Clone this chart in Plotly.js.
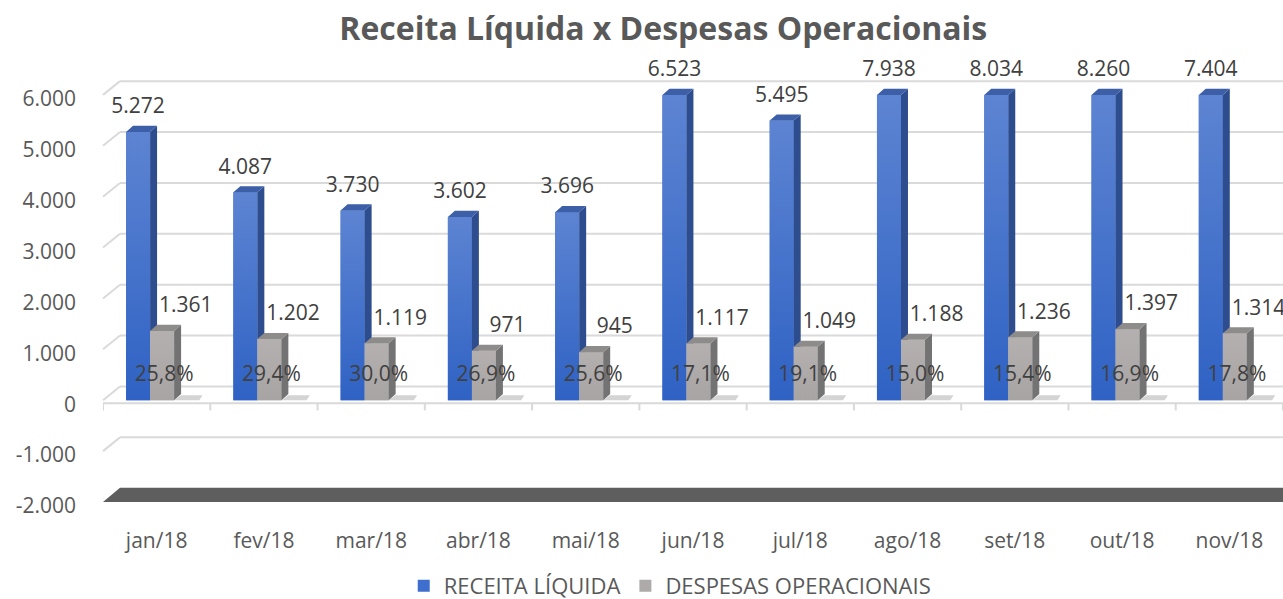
<!DOCTYPE html>
<html>
<head>
<meta charset="utf-8">
<script src="https://cdn.plot.ly/plotly-3.0.1.min.js"></script>
<style>
  html, body { margin: 0; padding: 0; background: #fff; }
  #chart { width: 1283px; height: 599px; }
</style>
</head>
<body>
<div id="chart"></div>
<script>
// ── Data ──
const months   = ["jan/18", "fev/18", "mar/18", "abr/18", "mai/18", "jun/18", "jul/18", "ago/18", "set/18", "out/18", "nov/18"];
const receita  = [5272, 4087, 3730, 3602, 3696, 6523, 5495, 7938, 8034, 8260, 7404];
const despesas = [1361, 1202, 1119, 971, 945, 1117, 1049, 1188, 1236, 1397, 1314];
const pctLabels = ["25,8%", "29,4%", "30,0%", "26,9%", "25,6%", "17,1%", "19,1%", "15,0%", "15,4%", "16,9%", "17,8%"];
const yTicks   = [-2000, -1000, 0, 1000, 2000, 3000, 4000, 5000, 6000];
const yTickText = ["-2.000", "-1.000", "0", "1.000", "2.000", "3.000", "4.000", "5.000", "6.000"];

// ── Look ──
const CAP = 6000;          // the 3D axis stops at 6.000, taller bars are cut
const W   = 0.224;         // front face width (category units)
const DX  = 0.065;         // depth to the right
const DY  = 120;           // depth upwards (data units)
const BLUE_OFF = -0.285;
const GRAY_OFF = BLUE_OFF + W;
const FONT = "Open Sans, DejaVu Sans, sans-serif";
const TXT  = "#404040";

const xs = months.map((m, i) => i);
const blueV = receita.map(v => Math.min(v, CAP));

function fmt(v) {
    return String(v).replace(/\B(?=(\d{3})+(?!\d))/g, ".");
}

// polygons joined with null gaps, each filled on its own
function polys(list) {
    const px = [], py = [];
    list.forEach(p => {
        p.forEach(pt => { px.push(pt[0]); py.push(pt[1]); });
        px.push(p[0][0]); py.push(p[0][1]);
        px.push(null); py.push(null);
    });
    return { px, py };
}

function face(list, color) {
    const p = polys(list);
    return {
        x: p.px, y: p.py, type: "scatter", mode: "lines",
        fill: "toself", fillcolor: color, line: { width: 0 },
        hoverinfo: "skip", showlegend: false
    };
}

// front faces: one trace per column so each gets its own shading
function fronts(vals, off, dark, light) {
    return vals.map((v, i) => {
        const l = i + off, r = l + W;
        return {
            x: [l, r, r, l, l], y: [0, 0, v, v, 0], type: "scatter", mode: "lines",
            fill: "toself", line: { width: 0 },
            fillgradient: { type: "vertical", start: 0, stop: v, colorscale: [[0, dark], [1, light]] },
            hoverinfo: "skip", showlegend: false
        };
    });
}

const blueFaces = fronts(blueV, BLUE_OFF, "#2f62c4", "#5d84d2");
const grayFaces = fronts(despesas, GRAY_OFF, "#a8a4a4", "#b4b0b0");

// blue side sits behind the grey front, so start it at the grey top
const blueSide = face(xs.map((x, i) => {
    const r = x + BLUE_OFF + W;
    return [[r, despesas[i]], [r + DX, despesas[i]], [r + DX, blueV[i] + DY], [r, blueV[i]]];
}), "#2e4d8e");
const blueTop = face(xs.map((x, i) => {
    const l = x + BLUE_OFF, r = l + W;
    return [[l, blueV[i]], [l + DX, blueV[i] + DY], [r + DX, blueV[i] + DY], [r, blueV[i]]];
}), "#3d5fa8");
const graySide = face(xs.map((x, i) => {
    const r = x + GRAY_OFF + W;
    return [[r, 0], [r + DX, DY], [r + DX, despesas[i] + DY], [r, despesas[i]]];
}), "#747373");
const grayTop = face(xs.map((x, i) => {
    const l = x + GRAY_OFF, r = l + W;
    return [[l, despesas[i]], [l + DX, despesas[i] + DY], [r + DX, despesas[i] + DY], [r, despesas[i]]];
}), "#8e8b8b");
const shadow = face(xs.map(x => {
    const r = x + GRAY_OFF + W + DX;
    return [[r - DX, 0], [r, DY * 0.8], [r + 0.2, DY * 0.8], [r + 0.17, 0]];
}), "#d4d4d4");

// plain bars underneath give the legend entries
const blueBar = {
    x: xs, y: blueV, type: "bar", name: "RECEITA LÍQUIDA",
    offset: BLUE_OFF, width: W,
    marker: { color: "#3f6fce", line: { width: 0 } },
    hoverinfo: "skip"
};
const grayBar = {
    x: xs, y: despesas, type: "bar", name: "DESPESAS OPERACIONAIS",
    offset: GRAY_OFF, width: W,
    marker: { color: "#aeaaaa", line: { width: 0 } },
    hoverinfo: "skip"
};

function labels(x, y, text) {
    return {
        x, y, text, type: "scatter", mode: "text", cliponaxis: false,
        textfont: { family: FONT, size: 21, color: TXT },
        hoverinfo: "skip", showlegend: false
    };
}
const blueLbl = labels(xs.map(x => x + BLUE_OFF + W / 2), blueV.map(v => v + 470), receita.map(fmt));
const grayLbl = labels(xs.map(x => x + GRAY_OFF + W / 2 + 0.22), despesas.map(v => v + 470), despesas.map(fmt));
const pctLbl  = labels(xs.map(x => x + 0.07), xs.map(() => 490), pctLabels);

// ── 3D walls: back grid lines, floor and the dark base slab ──
const DEPTH_X = 17 / 1180;
const DEPTH_Y = 270;
const shapes = [];
yTicks.filter(t => t > -2000).forEach(t => {
    shapes.push({ type: "line", xref: "paper", yref: "y", x0: 0, y0: t, x1: DEPTH_X, y1: t + DEPTH_Y,
                  line: { color: "#dadada", width: 2 }, layer: "below" });
    shapes.push({ type: "line", xref: "paper", yref: "y", x0: DEPTH_X, y0: t + DEPTH_Y, x1: 1, y1: t + DEPTH_Y,
                  line: { color: "#dadada", width: 2 }, layer: "below" });
});
shapes.push({ type: "line", xref: "paper", yref: "y", x0: 0, y0: -60, x1: 1, y1: -60,
              line: { color: "#d9d9d9", width: 2 }, layer: "below" });
for (let i = 0; i <= months.length; i++) {
    shapes.push({ type: "line", xref: "x", yref: "y", x0: i - 0.5, y0: -60, x1: i - 0.5, y1: -200,
                  line: { color: "#d9d9d9", width: 2 }, layer: "below" });
}
shapes.push({ type: "path", xref: "paper", yref: "y",
              path: `M 0,-2000 L ${DEPTH_X},-1720 L 1,-1720 L 1,-2000 Z`,
              fillcolor: "#5e5e5e", line: { width: 0 }, layer: "below" });

const layout = {
    width: 1283, height: 599,
    margin: { l: 103, r: 0, t: 44, b: 97, autoexpand: false },
    paper_bgcolor: "#ffffff",
    plot_bgcolor: "#ffffff",
    separators: ",.",
    barmode: "overlay",
    showlegend: true,
    title: {
        text: "Receita Líquida x Despesas Operacionais",
        font: { family: FONT, size: 32, color: "#595959", weight: 700 },
        x: 0.517, xanchor: "center", xref: "container",
        y: 1 - 29 / 599, yanchor: "middle", yref: "container"
    },
    xaxis: {
        range: [-0.5, 10.5],
        tickvals: xs, ticktext: months,
        showgrid: false, zeroline: false, showline: false, ticks: "",
        ticklabelstandoff: 24,
        tickfont: { family: FONT, size: 21, color: "#595959" },
        fixedrange: true
    },
    yaxis: {
        range: [-2000, 7000],
        tickvals: yTicks, ticktext: yTickText,
        showgrid: false, zeroline: false, showline: false, ticks: "",
        ticklabelstandoff: 26,
        ticklabelshift: 4,
        tickfont: { family: FONT, size: 21, color: "#595959" },
        fixedrange: true
    },
    legend: {
        orientation: "h",
        x: 0.522, xanchor: "center", xref: "container",
        y: 1 - 586 / 599, yanchor: "middle", yref: "container",
        font: { family: FONT, size: 22, color: "#595959" },
        itemclick: false, itemdoubleclick: false
    },
    shapes: shapes
};

Plotly.newPlot("chart",
    [shadow, blueBar, grayBar, ...blueFaces, blueSide, blueTop, ...grayFaces, graySide, grayTop, blueLbl, grayLbl, pctLbl],
    layout, { displayModeBar: false, staticPlot: true });
</script>
</body>
</html>
